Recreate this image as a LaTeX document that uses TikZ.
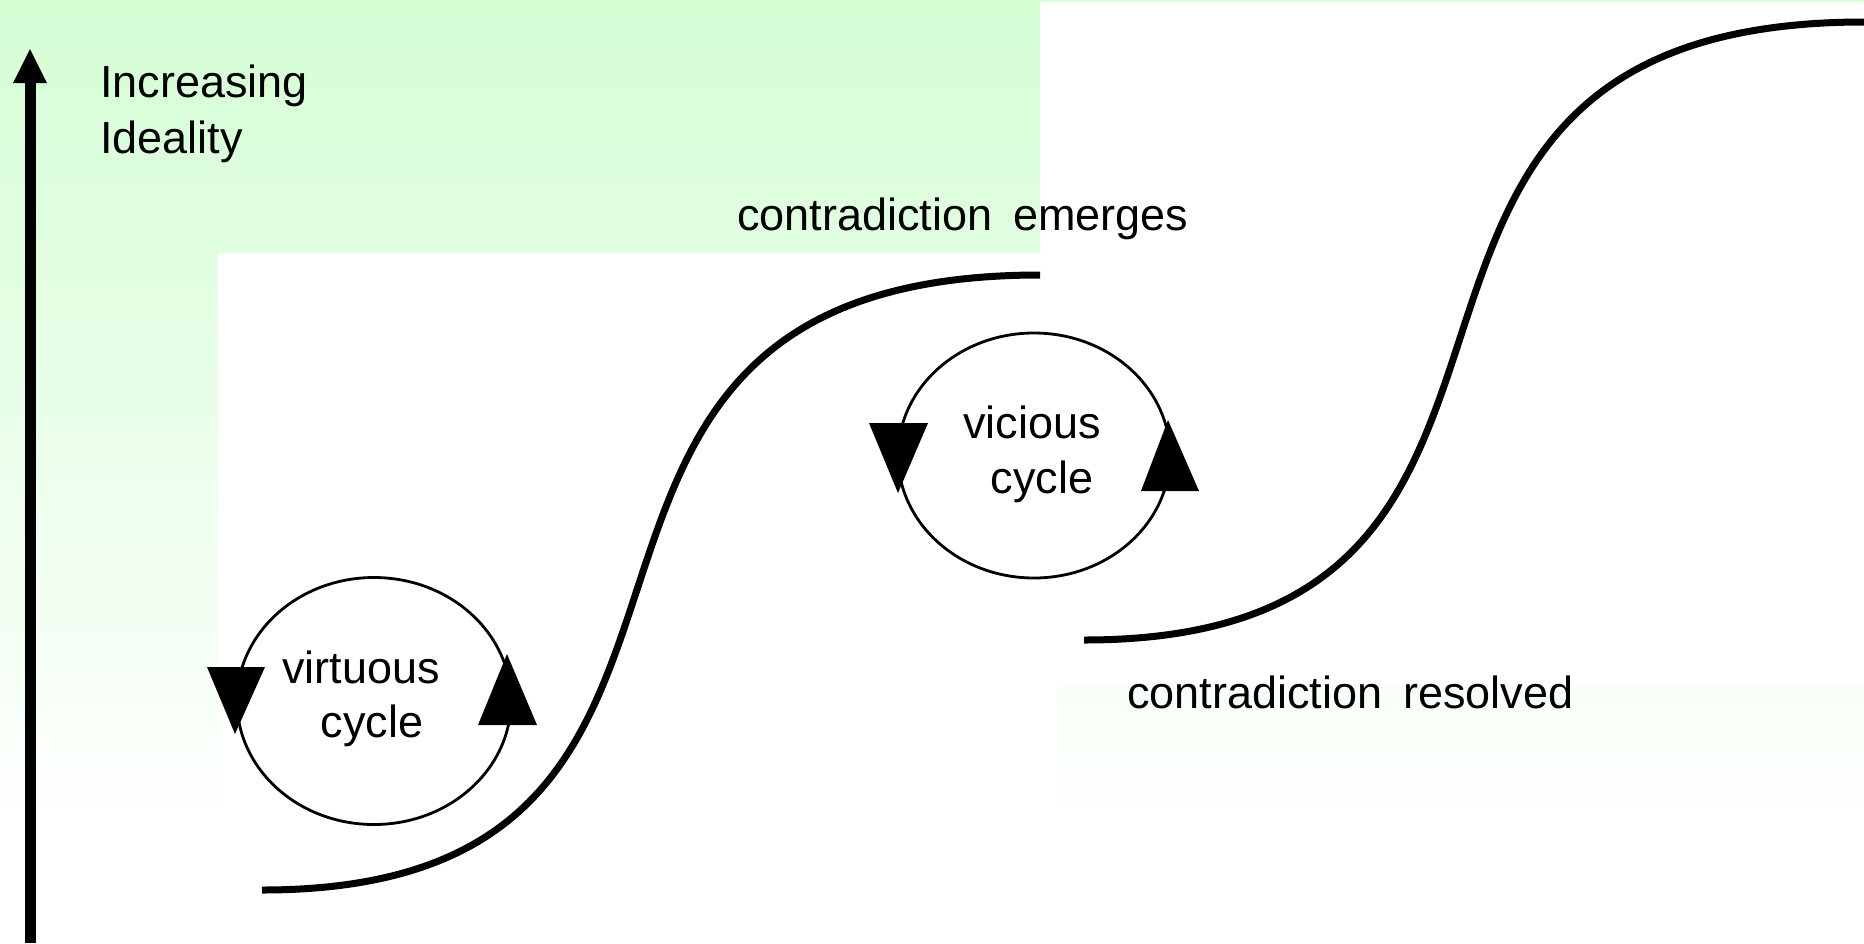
\documentclass[tikz,border=0pt]{standalone}
\usepackage{fontspec}
\setmainfont{Liberation Sans}
\begin{document}
\begin{tikzpicture}[x=1pt,y=-1pt,
  lbl/.style={inner sep=0pt, font=\fontsize{45}{54}\selectfont},
  cyclering/.style={line width=2.8pt},
  scurve/.style={line width=7pt},
  tip/.style={fill=black}]
\definecolor{mint}{RGB}{212,254,212}
\useasboundingbox (0,0) rectangle (1864,943);

% pale green backdrop, shown only in the open areas
\begin{scope}
  \clip (0,0) rectangle (218,835)
        (0,0) rectangle (1040,253)
        (0,0) rectangle (1864,1.5)
        (1057,686) rectangle (1864,835);
  \shade[top color=mint, bottom color=white] (0,0) rectangle (1864,835);
\end{scope}

% ideality axis
\coordinate (axisfoot) at (30,943);
\coordinate (axistop) at (30,49);
\draw[line width=11pt] (axisfoot) -- (30,82);
\fill (13,83) -- (47,83) -- (axistop) -- cycle;

% two S-curves of growth
\coordinate (s1a) at (262,890);
\coordinate (s1b) at (1040,275);
\coordinate (s2a) at (1084,640);
\coordinate (s2b) at (1864,22);
\draw[scurve] (s1a) .. controls (822,890) and (449,275) .. (s1b);
\draw[scurve] (s2a) .. controls (1646,640) and (1271,22) .. (s2b);

% virtuous cycle
\draw[cyclering] (374,701) ellipse [x radius=137pt, y radius=123.5pt];
\fill[tip] (207,667) -- (265,667) -- (235,734) -- cycle;
\fill[tip] (478,725) -- (537,725) -- (507,654) -- cycle;

% vicious cycle
\draw[cyclering] (1034,455.5) ellipse [x radius=136pt, y radius=122.5pt];
\fill[tip] (869,423) -- (928,423) -- (898,493) -- cycle;
\fill[tip] (1141,491) -- (1199,491) -- (1168,420) -- cycle;

% labels
\node[lbl, anchor=base west] (inc) at (100,97) {Increasing};
\node[lbl, anchor=base west] (ideal) at (100,153) {Ideality};
\node[lbl, anchor=base west] (emerge) at (737,230) {contradiction\hspace{21pt}emerges};
\node[lbl, anchor=base west] (resolve) at (1127,708) {contradiction\hspace{21pt}resolved};
\node[lbl, anchor=base] (virt) at (361,683) {virtuous};
\node[lbl, anchor=base] (virtc) at (372,737) {cycle};
\node[lbl, anchor=base] (vic) at (1032,438) {vicious};
\node[lbl, anchor=base] (vicc) at (1042,493) {cycle};
\end{tikzpicture}
\end{document}
